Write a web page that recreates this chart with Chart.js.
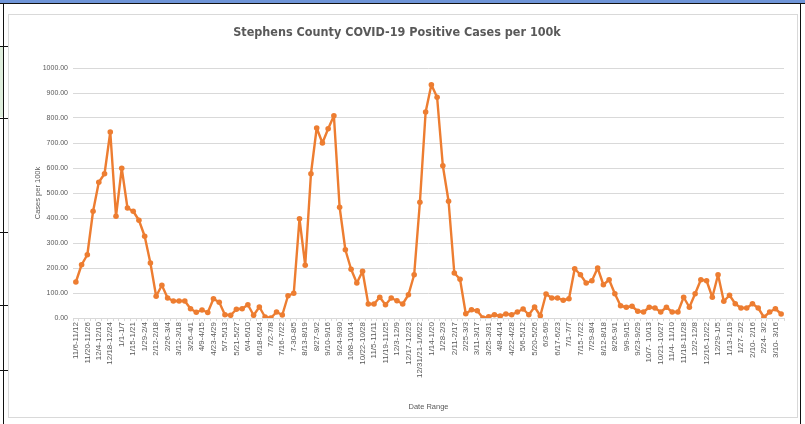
<!DOCTYPE html>
<html>
<head>
<meta charset="utf-8">
<script src="https://cdn.jsdelivr.net/npm/chart.js@4.4.1/dist/chart.umd.min.js"></script>
<style>
  html, body { margin: 0; padding: 0; background: #fff; }
  body { width: 805px; height: 424px; position: relative; overflow: hidden; }
  .topbar { position: absolute; left: 0; top: 0; width: 805px; height: 3px; background: #6f95d8; }
  .topline { position: absolute; left: 0; top: 3px; width: 805px; height: 1px; background: #111; }
  .leftline { position: absolute; left: 3px; top: 3px; width: 1px; height: 421px; background: #111; }
  .rightline { position: absolute; left: 800px; top: 3px; width: 1px; height: 421px; background: #111; }
  .greenbit { position: absolute; left: 0; top: 47px; width: 3px; height: 70px; background: #dfeedd; }
  .mark { position: absolute; left: 0; width: 8px; height: 1px; background: #111; }
  .frame { position: absolute; left: 8px; top: 14px; width: 790px; height: 404px; border: 1px solid #d9d9d9; box-sizing: border-box; }
  #wrap { position: absolute; left: 0; top: 0; width: 805px; height: 424px; }
</style>
</head>
<body>
<div class="topbar"></div>
<div class="topline"></div>
<div class="leftline"></div>
<div class="rightline"></div>
<div class="greenbit"></div>
<div class="mark" style="top:46px"></div>
<div class="mark" style="top:118px"></div>
<div class="mark" style="top:232px"></div>
<div class="mark" style="top:305px"></div>
<div class="mark" style="top:370px"></div>
<div class="frame"></div>
<div id="wrap"><canvas id="casesChart"></canvas></div>
<script>
// weekly date ranges (Nov 2020 - Mar 2023)
const weekLabels = [
  '11/6-11/12', '11/13-11/19', '11/20-11/26', '11/27-12/3', '12/4-12/10', '12/11-12/17', '12/18-12/24', '12/25-12/31',
  '1/1-1/7', '1/8-1/14', '1/15-1/21', '1/22-1/28', '1/29-2/4', '2/5-2/11', '2/12-2/18', '2/19-2/25',
  '2/26-3/4', '3/5-3/11', '3/12-3/18', '3/19-3/25', '3/26-4/1', '4/2-4/8', '4/9-4/15', '4/16-4/22',
  '4/23-4/29', '4/30-5/6', '5/7-5/13', '5/14-5/20', '5/21-5/27', '5/28-6/3', '6/4-6/10', '6/11-6/17',
  '6/18-6/24', '6/25-7/1', '7/2-7/8', '7/9-7/15', '7/16-7/22', '7/23-7/29', '7-30-8/5', '8/6-8/12',
  '8/13-8/19', '8/20-8/26', '8/27-9/2', '9/3-9/9', '9/10-9/16', '9/17-9/23', '9/24-9/30', '10/1-10/7',
  '10/8-10/14', '10/15-10/21', '10/22-10/28', '10/29-11/4', '11/5-11/11', '11/12-11/18', '11/19-11/25', '11/26-12/2',
  '12/3-12/9', '12/10-12/16', '12/17-12/23', '12/24-12/30', '12/31/21-1/6/22',
  '1/7-1/13', '1/14-1/20', '1/21-1/27', '1/28-2/3', '2/4-2/10', '2/11-2/17', '2/18-2/24', '2/25-3/3',
  '3/4-3/10', '3/11-3/17', '3/18-3/24', '3/25-3/31', '4/1-4/7', '4/8-4/14', '4/15-4/21', '4/22-4/28',
  '4/29-5/5', '5/6-5/12', '5/13-5/19', '5/20-5/26', '5/27-6/2', '6/3-6/9', '6/10-6/16', '6/17-6/23',
  '6/24-6/30', '7/1-7/7', '7/8-7/14', '7/15-7/22', '7/22-7/28', '7/29-8/4', '8/5-8/11', '8/12-8/18',
  '8/19-8/25', '8/26-9/1', '9/2-9/8', '9/9-9/15', '9/16-9/22', '9/23-9/29', '9/30-10/6', '10/7- 10/13',
  '10/14-10/20', '10/21-10/27', '10/28-11/3', '11/4- 11/10', '11/11-11/17', '11/18-11/28', '11/25-12/1', '12/2-12/8',
  '12/9-12/15', '12/16-12/22', '12/23-12/29', '12/29-1/5',
  '1/6-1/12', '1/13-1/19', '1/20-1/26', '1/27- 2/2', '2/3-2/9', '2/10- 2/16', '2/17-2/23', '2/24- 3/2',
  '3/3-3/9', '3/10- 3/16', '3/17-3/23'
];

// positive cases per 100k
const casesPer100k = [
  144, 213, 253, 427, 543, 577, 744, 407, 599, 440,
  427, 391, 327, 220, 87, 131, 80, 68, 68, 68,
  37, 23, 32, 22, 77, 63, 13, 11, 35, 37,
  53, 11, 44, 4, 0, 24, 12, 89, 99, 397,
  211, 577, 760, 700, 757, 809, 443, 273, 195, 140,
  187, 56, 56, 83, 53, 80, 69, 56, 93, 173,
  463, 824, 933, 883, 609, 467, 180, 155, 17, 33,
  29, 0, 5, 13, 8, 16, 13, 24, 36, 13,
  44, 9, 96, 80, 80, 71, 77, 197, 173, 140,
  149, 200, 133, 153, 97, 49, 43, 47, 27, 24,
  43, 40, 24, 43, 24, 24, 83, 43, 97, 153,
  149, 83, 173, 67, 91, 57, 40, 40, 57, 40,
  3, 24, 37, 16
];

const yMin = 0;
const yMax = 1000;
const yStep = 100;

const textColor = '#595959';
const gridColor = '#d9d9d9';
const lineColor = '#ed7d31';
const fontFamily = '"Liberation Sans", Arial, sans-serif';

const ctx = document.getElementById('casesChart').getContext('2d');
new Chart(ctx, {
    type: 'line',
    data: {
        labels: weekLabels,
        datasets: [{
            label: 'Cases per 100k',
            data: casesPer100k,
            borderColor: lineColor,
            backgroundColor: lineColor,
            borderWidth: 2.4,
            borderJoinStyle: 'round',
            borderCapStyle: 'round',
            pointRadius: 2.8,
            pointBorderWidth: 0,
            pointBackgroundColor: lineColor,
            tension: 0
        }]
    },
    options: {
        responsive: true,
        maintainAspectRatio: false,
        animation: false,
        layout: { padding: { left: 10, right: 21, top: 0, bottom: 13 } },
        plugins: {
            legend: { display: false },
            tooltip: { enabled: false },
            title: {
                display: true,
                text: 'Stephens County COVID-19 Positive Cases per 100k',
                color: textColor,
                font: { family: '"DejaVu Sans Condensed", "Liberation Sans Narrow", sans-serif', size: 12.5, weight: 'bold' },
                padding: { top: 25, bottom: 28 }
            }
        },
        scales: {
            x: {
                offset: true,
                grid: { drawOnChartArea: false, drawTicks: true, tickLength: 3, color: gridColor, offset: true },
                border: { color: gridColor },
                ticks: {
                    autoSkip: false,
                    minRotation: 90,
                    maxRotation: 90,
                    padding: 1,
                    color: textColor,
                    font: { family: fontFamily, size: 8 },
                    callback: function (value, index) {
                        return index % 2 === 0 ? this.getLabelForValue(value) : '';
                    }
                },
                title: {
                    display: true,
                    text: 'Date Range',
                    color: textColor,
                    font: { family: fontFamily, size: 7.5 },
                    padding: { top: 1, bottom: 0 }
                },
                afterFit: (scale) => { scale.height = 93; }
            },
            y: {
                min: yMin,
                max: yMax,
                grid: { color: gridColor, drawTicks: false },
                border: { display: false },
                ticks: {
                    stepSize: yStep,
                    padding: 5,
                    color: textColor,
                    font: { family: fontFamily, size: 7 },
                    callback: (v) => v.toFixed(2)
                },
                title: {
                    display: true,
                    text: 'Cases per 100k',
                    color: textColor,
                    font: { family: fontFamily, size: 7.5 },
                    padding: { top: 23, bottom: 0 }
                },
                afterFit: (scale) => { scale.width = 63; }
            }
        }
    }
});
</script>
</body>
</html>
